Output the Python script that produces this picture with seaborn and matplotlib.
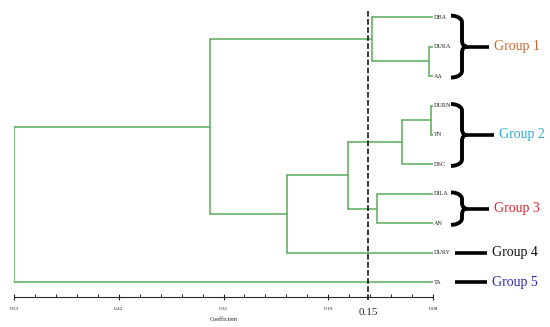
import numpy as np
import pandas as pd
import matplotlib
matplotlib.use('Agg')
from matplotlib import pyplot as plt
import seaborn as sns

# 叶节点（自上而下）
leaves = ['DBA', 'DURA', 'AA', 'DURN', 'TN', 'DSC', 'DILA', 'AN', 'DURY', 'TA']
# 合并步骤：左簇、右簇、相似系数（新簇编号从 10 开始）
merge_left = [1, 3, 11, 6, 0, 12, 15, 14, 17]
merge_right = [2, 4, 5, 7, 10, 13, 8, 16, 9]
merge_height = [0.084, 0.082, 0.113, 0.140, 0.145, 0.171, 0.237, 0.319, 0.530]

# 坐标轴刻度
tick_values = [0.53, 0.4175, 0.305, 0.1925, 0.08]
tick_labels = ['0.53', '0.42', '0.31', '0.19', '0.08']
cut_value = 0.15

# 分组标注
group_names = ['Group 1', 'Group 2', 'Group 3', 'Group 4', 'Group 5']
group_colors = ['#c8682e', '#2aa9d6', '#e3242b', '#111111', '#2a2ab5']
group_members = [['DBA', 'DURA', 'AA'], ['DURN', 'TN', 'DSC'], ['DILA', 'AN'], ['DURY'], ['TA']]

leaf_x = 0.08
line_color = '#63ad63'

# 计算树的各节点位置并生成线段
node_y = {i: float(i) for i in range(len(leaves))}
node_x = {i: leaf_x for i in range(len(leaves))}
rows = []
seg = 0
for k, (a, b, h) in enumerate(zip(merge_left, merge_right, merge_height)):
    nid = len(leaves) + k
    for child in (a, b):
        rows.append((seg, node_x[child], node_y[child]))
        rows.append((seg, h, node_y[child]))
        seg += 1
    rows.append((seg, h, node_y[a]))
    rows.append((seg, h, node_y[b]))
    seg += 1
    node_x[nid] = h
    node_y[nid] = (node_y[a] + node_y[b]) / 2
segments = pd.DataFrame(rows, columns=['seg', 'coef', 'pos'])

sns.set_style('white')
plt.rcParams['font.family'] = ['Liberation Serif', 'DejaVu Serif']

fig = plt.figure(figsize=(5.5, 3.27), dpi=100)
ax = fig.add_axes([14 / 550, 1 - 297 / 327, (433 - 14) / 550, 294 / 327])

sns.lineplot(data=segments, x='coef', y='pos', units='seg', estimator=None,
             sort=False, color=line_color, linewidth=1.15, ax=ax)

ax.set_xlim(0.53, 0.08)
ax.set_ylim(9.5, -0.48)

# 叶节点标签
for i, name in enumerate(leaves):
    ax.text(leaf_x - 0.0012, i, name, fontsize=4.4, va='center', ha='left',
            clip_on=False)

# 截断线
ax.axvline(cut_value, ymin=-0.01, ymax=0.98, color='black', linestyle='--',
           linewidth=1.1, clip_on=False)
ax.text(cut_value, 10.02, '0.15', fontsize=8, ha='center', va='center')

# 坐标轴样式
for side in ['top', 'right', 'left']:
    ax.spines[side].set_visible(False)
ax.spines['bottom'].set_linewidth(0.8)
ax.set_yticks([])
ax.set_xticks(tick_values)
ax.set_xticklabels(tick_labels, fontsize=3.8)
ax.set_xticks(np.linspace(0.53, 0.08, 21), minor=True)
ax.tick_params(axis='x', which='major', direction='inout', length=5, width=0.8, pad=5,
               bottom=True)
ax.tick_params(axis='x', which='minor', direction='in', length=2.5, width=0.7, bottom=True)
ax.set_xlabel('Coefficient', fontsize=4.5, labelpad=4)
ax.set_ylabel('')

# 大括号与分组名称
px = 419 / 0.45  # 每单位像素数


def to_coef(xpix):
    return 0.53 - (xpix - 14) / px


def brace(xpix, top, bot, hook=11, tip=4, r=0.22, r2=0.2):
    # 生成 "}" 形状，横向以像素为单位，纵向以叶节点序号为单位
    t = np.linspace(0, np.pi / 2, 12)
    mid = (top + bot) / 2
    dx, dy = [], []
    dx += list(-hook + hook * np.sin(t)); dy += list(top + r - r * np.cos(t))
    dx += list(tip - tip * np.cos(t)); dy += list(mid - r2 + r2 * np.sin(t))
    dx += list(tip - tip * np.sin(t)); dy += list(mid + r2 - r2 * np.cos(t))
    dx += list(-hook + hook * np.cos(t)); dy += list(bot - r + r * np.sin(t))
    xs = [to_coef(xpix + d) for d in dx]
    return xs, dy


for name, color, members in zip(group_names, group_colors, group_members):
    ys = [leaves.index(m) for m in members]
    top, bot = min(ys), max(ys)
    mid = (top + bot) / 2
    if len(members) > 1:
        bx, by = brace(462, top - 0.05, bot + 0.05)
        ax.plot(bx, by, color='black', linewidth=2.8, clip_on=False,
                solid_joinstyle='round', solid_capstyle='butt')
        x0, x1 = to_coef(466), to_coef(489 if name != 'Group 2' else 494)
    else:
        x0, x1 = to_coef(455), to_coef(487)
    ax.plot([x0, x1], [mid, mid], color='black', linewidth=2.6, clip_on=False,
            solid_capstyle='butt')
    ax.text(x1 - 0.005, mid, name, color=color, fontsize=10, ha='left', va='center',
            clip_on=False)

fig.savefig('out.png', dpi=100)
plt.close(fig)
